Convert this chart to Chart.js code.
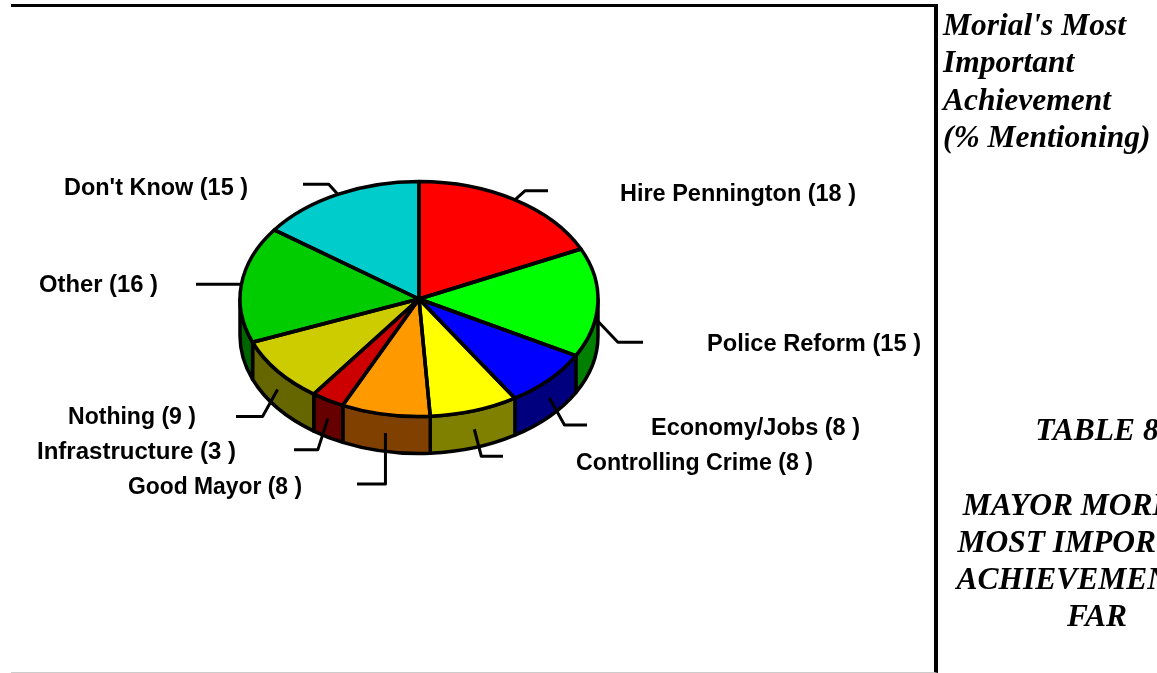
<!doctype html>
<html>

<head>
    <title>Morial's Most Important Achievement</title>
    <script src="https://cdn.jsdelivr.net/npm/chart.js@4"></script>
    <style>
    html, body {
        margin: 0;
        padding: 0;
        background: #fff;
        overflow: hidden;
    }
    #chart-area {
        position: absolute;
        left: 0;
        top: 0;
        filter: blur(0.4px);
    }
    #frame {
        position: absolute;
        left: 11px;
        top: 4px;
        width: 923px;
        height: 665px;
        border-top: 3px solid #000;
        border-right: 4px solid #000;
        border-bottom: 1px solid #ccc;
        box-sizing: content-box;
    }
    .side {
        position: absolute;
        font-family: "Liberation Serif", serif;
        font-weight: bold;
        font-style: italic;
        font-size: 31.5px;
        line-height: 37.3px;
        color: #000;
        white-space: nowrap;
    }
    #side-title {
        left: 943px;
        top: 6px;
    }
    #side-table {
        left: 897px;
        width: 400px;
        top: 411px;
        text-align: center;
    }
    </style>
</head>

<body>
    <canvas id="chart-area" width="1157" height="673"></canvas>
    <div id="frame"></div>
    <div class="side" id="side-title">Morial's Most<br>Important<br>Achievement<br>(% Mentioning)</div>
    <div class="side" id="side-table">TABLE 8<br><br>MAYOR MORIAL'S<br>MOST IMPORTANT<br>ACHIEVEMENT SO<br>FAR</div>
    <script>
    var categories = ["Hire Pennington", "Police Reform", "Economy/Jobs", "Controlling Crime", "Good Mayor", "Infrastructure", "Nothing", "Other", "Don't Know"];
    var percents = [18, 15, 8, 8, 8, 3, 9, 16, 15];
    var topColors = ["#ff0000", "#00ff00", "#0000ff", "#ffff00", "#ff9900", "#cc0000", "#cccc00", "#00cc00", "#00cccc"];
    var wallColors = ["#7f0000", "#007f00", "#00007f", "#7f7f00", "#7f4000", "#660000", "#666600", "#006600", "#006666"];

    // pie shape on screen
    var tilt = 117.5 / 179;
    var depth = 37;
    var lineW = 3.5;

    // leader: elbow offset from the slice edge, then run to the end x
    var leaderElbow = [[10, -9], [20, 21], [15, 27], [7, 27], [0, 51], [-10, 31], [-15, 27], [0, 0], [-9, -10]];
    var leaderEndX = [548, 643, 587, 503, 357, 294, 236, 196, 303];
    // label position: left edge + middle of text
    var labelX = [620, 707, 651, 576, 128, 37, 68, 39, 64];
    var labelY = [195, 345, 429, 464, 488, 453, 418, 286, 189];
    var labelW = [236, 214, 209, 237, 174, 199, 128, 119, 184];

    function wallPath(ctx, x, y, rx, ry, a0, a1) {
        ctx.beginPath();
        ctx.ellipse(x, y, rx, ry, 0, a0, a1);
        ctx.ellipse(x, y + depth, rx, ry, 0, a1, a0, true);
        ctx.closePath();
    }

    var pie3d = {
        id: 'pie3d',
        beforeDatasetsDraw: function(chart) {
            var ctx = chart.ctx;
            var arcs = chart.getDatasetMeta(0).data;
            ctx.save();
            ctx.lineWidth = lineW;
            ctx.lineJoin = 'round';
            ctx.strokeStyle = '#000';
            arcs.forEach(function(arc, i) {
                // only the front half of the wall can be seen
                var a0 = Math.max(arc.startAngle, 0);
                var a1 = Math.min(arc.endAngle, Math.PI);
                if (a1 <= a0) return;
                wallPath(ctx, arc.x, arc.y, arc.outerRadius, arc.outerRadius * tilt, a0, a1);
                ctx.fillStyle = wallColors[i];
                ctx.fill();
                ctx.stroke();
            });
            ctx.restore();

            // squash the library's round arcs
            var a = arcs[0];
            ctx.save();
            ctx.translate(a.x, a.y);
            ctx.scale(1, tilt);
            ctx.translate(-a.x, -a.y);
        },
        afterDatasetsDraw: function(chart) {
            var ctx = chart.ctx;
            var arcs = chart.getDatasetMeta(0).data;
            ctx.restore();
            ctx.save();
            ctx.lineWidth = lineW;
            ctx.lineJoin = 'round';
            ctx.strokeStyle = '#000';
            arcs.forEach(function(arc) {
                ctx.beginPath();
                ctx.moveTo(arc.x, arc.y);
                ctx.ellipse(arc.x, arc.y, arc.outerRadius, arc.outerRadius * tilt, 0, arc.startAngle, arc.endAngle);
                ctx.closePath();
                ctx.stroke();
            });

            arcs.forEach(function(arc, i) {
                var mid = (arc.startAngle + arc.endAngle) / 2;
                var sx = arc.x + arc.outerRadius * Math.cos(mid);
                var sy = arc.y + arc.outerRadius * tilt * Math.sin(mid);
                // front slices take the leader from the middle of the wall
                if (mid > 0 && mid < Math.PI) sy += depth / 2;
                var ex = sx + leaderElbow[i][0];
                var ey = sy + leaderElbow[i][1];
                ctx.lineWidth = 3;
                ctx.beginPath();
                ctx.moveTo(sx, sy);
                ctx.lineTo(ex, ey);
                ctx.lineTo(leaderEndX[i], ey);
                ctx.stroke();

                var text = categories[i] + ' (' + percents[i] + ' )';
                ctx.font = 'bold 23px "Liberation Sans", Arial, sans-serif';
                ctx.fillStyle = '#000';
                ctx.textBaseline = 'middle';
                ctx.textAlign = 'left';
                var scaleX = labelW[i] / ctx.measureText(text).width;
                ctx.save();
                ctx.translate(labelX[i], labelY[i]);
                ctx.scale(scaleX, 1);
                ctx.fillText(text, 0, 0);
                ctx.restore();
            });
            ctx.restore();
        }
    };

    var config = {
        type: 'pie',
        data: {
            labels: categories,
            datasets: [{
                data: percents,
                backgroundColor: topColors,
                borderWidth: 0
            }]
        },
        options: {
            responsive: false,
            animation: false,
            events: [],
            layout: {
                padding: { left: 240, right: 559, top: 120, bottom: 195 }
            },
            plugins: {
                legend: { display: false },
                title: { display: false },
                tooltip: { enabled: false }
            }
        },
        plugins: [pie3d]
    };

    window.onload = function() {
        var ctx = document.getElementById("chart-area").getContext("2d");
        window.myPie = new Chart(ctx, config);
    };
    </script>
</body>

</html>
